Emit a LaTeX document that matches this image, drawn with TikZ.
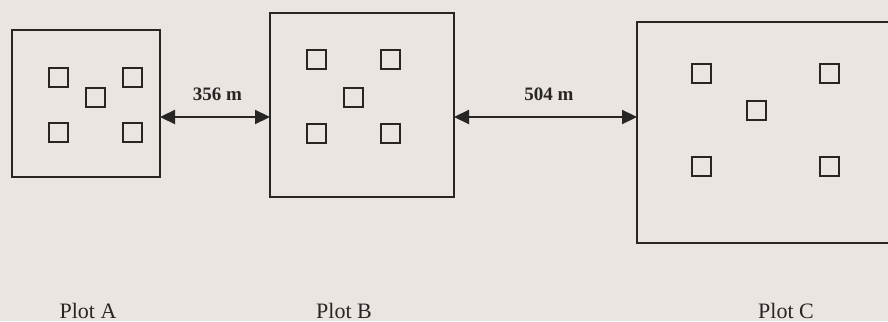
\documentclass[tikz,border=0pt]{standalone}
\usepackage{fontspec}
\setmainfont{Liberation Serif}
\usetikzlibrary{arrows.meta}
\definecolor{paper}{RGB}{234,229,224}
\definecolor{ink}{RGB}{40,37,37}
\tikzset{
  plotbox/.style={draw=ink, line width=2.2pt, minimum width=#1, inner sep=0pt, outer sep=0pt},
  quad/.style={draw=ink, line width=2pt, minimum width=19pt, minimum height=19pt, inner sep=0pt, outer sep=0pt},
  dist/.style={draw=ink, line width=2.2pt, {Triangle[length=15pt,width=14pt]}-{Triangle[length=15pt,width=14pt]}},
  distlabel/.style={font=\fontsize{19}{19}\selectfont\bfseries, text=ink, anchor=base, inner sep=0pt},
  plotlabel/.style={font=\fontsize{22}{22}\selectfont, text=ink, anchor=base, inner sep=0pt}
}
\begin{document}
\begin{tikzpicture}[x=1pt,y=-1pt]
\useasboundingbox (0,0) rectangle (888,321);
\fill[paper] (0,0) rectangle (888,321);
\begin{scope}
\clip (0,0) rectangle (888,321);
% Plots
\node[plotbox=148pt, minimum height=147pt] (A) at (86,103.5) {};
\node[plotbox=184pt, minimum height=184pt] (B) at (362,105) {};
\node[plotbox=263pt, minimum height=221pt] (C) at (768.5,132.5) {};
% Plot A quadrats
\node[quad] (a1) at (58,77) {};
\node[quad] (a2) at (132.5,77) {};
\node[quad] (a3) at (95.5,97) {};
\node[quad] (a4) at (58,132.5) {};
\node[quad] (a5) at (132.5,132.5) {};
% Plot B quadrats
\node[quad] (b1) at (316.5,59.5) {};
\node[quad] (b2) at (390.5,59.5) {};
\node[quad] (b3) at (353,97) {};
\node[quad] (b4) at (316.5,133) {};
\node[quad] (b5) at (390.5,133) {};
% Plot C quadrats
\node[quad] (c1) at (701.5,73.5) {};
\node[quad] (c2) at (829,73.5) {};
\node[quad] (c3) at (756,110) {};
\node[quad] (c4) at (701.5,166) {};
\node[quad] (c5) at (829,166) {};
\end{scope}
% distance arrows
\coordinate (lvl) at (0,117);
\draw[dist] (lvl -| A.east) -- (lvl -| B.west);
\draw[dist] (lvl -| B.east) -- (lvl -| C.west);
\node[distlabel] (dAB) at (217.5,100) {356 m};
\node[distlabel] (dBC) at (549,100) {504 m};
% plot labels
\node[plotlabel] (lA) at (88,318) {Plot A};
\node[plotlabel] (lB) at (344,318) {Plot B};
\node[plotlabel] (lC) at (786,318) {Plot C};
\end{tikzpicture}
\end{document}
